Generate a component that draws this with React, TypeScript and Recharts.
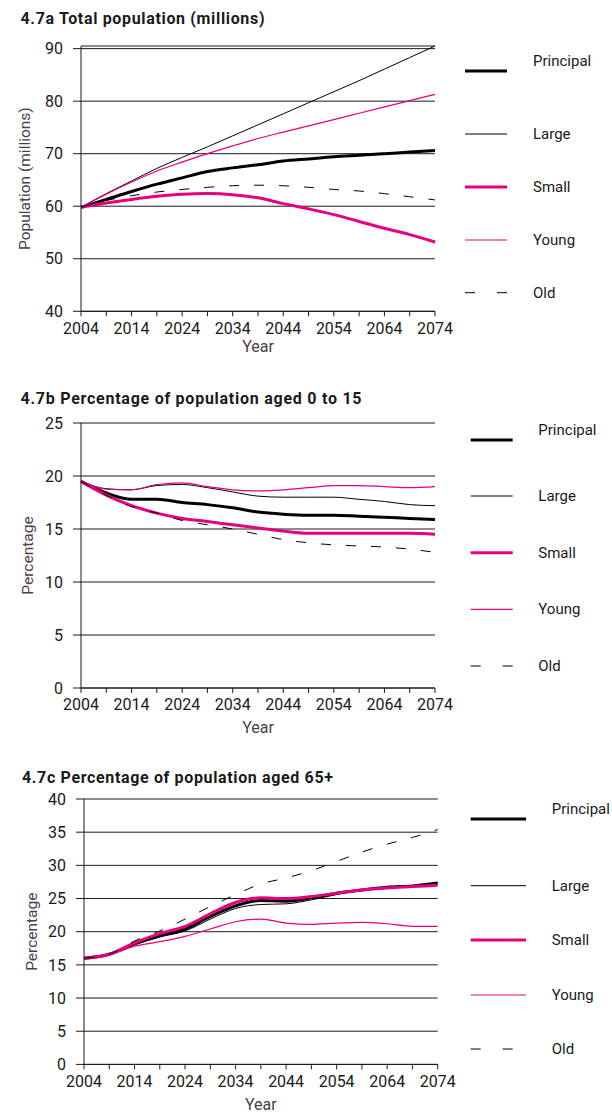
import React from 'react';
import { LineChart, Line, XAxis, YAxis, CartesianGrid } from 'recharts';

const years = [2004, 2009, 2014, 2019, 2024, 2029, 2034, 2039, 2044, 2049, 2054, 2059, 2064, 2069, 2074];
const seriesNames = ['Principal', 'Large', 'Small', 'Young', 'Old'];

// 4.7a Total population (millions)
const aPrincipal = [59.8, 61.3, 62.8, 64.2, 65.4, 66.6, 67.3, 67.9, 68.6, 69.0, 69.4, 69.7, 70.0, 70.3, 70.6];
const aLarge = [59.8, 62.4, 64.8, 67.2, 69.3, 71.3, 73.4, 75.5, 77.6, 79.7, 81.8, 83.9, 86.1, 88.3, 90.5];
const aSmall = [59.8, 60.6, 61.3, 61.9, 62.3, 62.4, 62.2, 61.6, 60.5, 59.5, 58.4, 57.1, 55.8, 54.6, 53.2];
const aYoung = [59.8, 62.3, 64.6, 66.7, 68.4, 70.0, 71.5, 72.9, 74.1, 75.3, 76.5, 77.7, 78.9, 80.1, 81.3];
const aOld = [59.8, 61.1, 62.0, 62.7, 63.2, 63.6, 63.9, 64.0, 63.9, 63.6, 63.2, 62.9, 62.4, 61.8, 61.2];
const aTicks = [40, 50, 60, 70, 80, 90];

// 4.7b Percentage of population aged 0 to 15
const bPrincipal = [19.5, 18.4, 17.8, 17.8, 17.5, 17.3, 17.0, 16.6, 16.4, 16.3, 16.3, 16.2, 16.1, 16.0, 15.9];
const bLarge = [19.5, 18.8, 18.7, 19.1, 19.2, 18.9, 18.5, 18.1, 18.0, 18.0, 18.0, 17.8, 17.6, 17.3, 17.2];
const bSmall = [19.5, 18.2, 17.2, 16.5, 16.0, 15.7, 15.4, 15.1, 14.8, 14.6, 14.6, 14.6, 14.6, 14.6, 14.5];
const bYoung = [19.5, 18.75, 18.7, 19.2, 19.35, 19.0, 18.7, 18.6, 18.7, 18.9, 19.1, 19.1, 19.0, 18.9, 19.0];
const bOld = [19.5, 18.2, 17.1, 16.5, 15.8, 15.4, 15.0, 14.5, 14.0, 13.7, 13.5, 13.4, 13.3, 13.1, 12.8];
const bTicks = [0, 5, 10, 15, 20, 25];

// 4.7c Percentage of population aged 65+
const cPrincipal = [16.0, 16.6, 18.2, 19.4, 20.4, 22.3, 23.9, 24.7, 24.6, 25.1, 25.8, 26.3, 26.7, 26.9, 27.35];
const cLarge = [16.0, 16.6, 18.0, 19.2, 20.1, 21.9, 23.5, 24.1, 24.2, 24.8, 25.6, 26.3, 26.7, 26.9, 27.4];
const cSmall = [16.0, 16.6, 18.3, 19.7, 20.8, 22.7, 24.4, 25.1, 25.0, 25.3, 25.8, 26.3, 26.6, 26.8, 27.0];
const cYoung = [16.0, 16.5, 17.8, 18.5, 19.3, 20.4, 21.5, 21.9, 21.3, 21.1, 21.3, 21.4, 21.2, 20.8, 20.8];
const cOld = [16.0, 16.6, 18.6, 20.1, 21.9, 23.8, 25.6, 27.2, 28.1, 29.2, 30.6, 32.0, 33.2, 34.2, 35.4];
const cTicks = [0, 5, 10, 15, 20, 25, 30, 35, 40];

const PINK = '#e6007e';
const INK = '#1a1a1a';
const LABEL = '#4a3d4c';
const FONT = 'Roboto, "Open Sans", sans-serif';

const styles: Record<string, { color: string; width: number; dash?: string; legendDash?: string }> = {
  Principal: { color: '#000', width: 3 },
  Large: { color: '#000', width: 1 },
  Small: { color: PINK, width: 3 },
  Young: { color: PINK, width: 1.2 },
  Old: { color: '#000', width: 1, dash: '10 15', legendDash: '10 22' },
};

function buildRows(p: number[], l: number[], s: number[], y: number[], o: number[]) {
  return years.map((yr, i) => ({ year: yr, Principal: p[i], Large: l[i], Small: s[i], Young: y[i], Old: o[i] }));
}

const panels = [
  {
    title: '4.7a Total population (millions)', titleX: 20.5, titleY: 23.8, titleW: 244,
    rows: buildRows(aPrincipal, aLarge, aSmall, aYoung, aOld),
    domain: [40, 90], ticks: aTicks, yLabel: 'Population (millions)', yLabelX: 25,
    plotTop: 46, plotBottom: 311.3, plotLeft: 81, plotRight: 435, yearBase: 352.5,
    legLine: [465, 507], legText: 533, legY: [71, 134, 187, 240, 292.7],
  },
  {
    title: '4.7b Percentage of population aged 0 to 15', titleX: 20.5, titleY: 404.1, titleW: 341,
    rows: buildRows(bPrincipal, bLarge, bSmall, bYoung, bOld),
    domain: [0, 25], ticks: bTicks, yLabel: 'Percentage', yLabelX: 27.5,
    plotTop: 422.7, plotBottom: 687.7, plotLeft: 81, plotRight: 435, yearBase: 732.3,
    legLine: [470.7, 512.7], legText: 538.3, legY: [440, 496, 552.7, 609.3, 666],
  },
  {
    title: '4.7c Percentage of population aged 65+', titleX: 22, titleY: 782.5, titleW: 311,
    rows: buildRows(cPrincipal, cLarge, cSmall, cYoung, cOld),
    domain: [0, 40], ticks: cTicks, yLabel: 'Percentage', yLabelX: 32,
    plotTop: 799.3, plotBottom: 1064.7, plotLeft: 84, plotRight: 437.7, yearBase: 1110.5,
    legLine: [470.7, 526], legText: 551.7, legY: [819, 885.7, 940, 995, 1049],
  },
];

const MT = 10;
const XH = 50;

function Panel({ p }: { p: typeof panels[number] }) {
  const height = p.plotBottom - p.plotTop + MT + XH;
  return (
    <div style={{ position: 'absolute', left: 0, top: p.plotTop - MT }}>
      <LineChart
        width={612}
        height={height}
        data={p.rows}
        margin={{ top: MT, right: 612 - p.plotRight, bottom: 0, left: 0 }}
      >
        <CartesianGrid vertical={false} stroke={INK} strokeWidth={1} />
        <XAxis
          dataKey="year"
          type="number"
          domain={[2004, 2074]}
          ticks={years}
          interval={0}
          height={XH}
          tickSize={5}
          tickMargin={6}
          tickFormatter={(v: number) => ((v - 2004) % 10 === 0 ? String(v) : '')}
          axisLine={{ stroke: INK }}
          tickLine={{ stroke: INK }}
          tick={{ fill: INK, fontSize: 16, fontFamily: FONT }}
          label={{ value: 'Year', position: 'insideBottom', offset: p.plotBottom + XH - p.yearBase, fill: LABEL, fontSize: 16, fontFamily: FONT }}
        />
        <YAxis
          type="number"
          domain={p.domain}
          ticks={p.ticks}
          interval={0}
          width={p.plotLeft}
          tickSize={8}
          tickMargin={10}
          axisLine={{ stroke: INK }}
          tickLine={{ stroke: INK }}
          tick={{ fill: INK, fontSize: 16, fontFamily: FONT }}
          label={{ value: p.yLabel, angle: -90, position: 'insideLeft', offset: p.yLabelX, fill: LABEL, fontSize: 15.5, fontFamily: FONT, style: { textAnchor: 'middle' } }}
        />
        {seriesNames.map((name) => (
          <Line
            key={name}
            dataKey={name}
            type="monotone"
            stroke={styles[name].color}
            strokeWidth={styles[name].width}
            strokeDasharray={styles[name].dash}
            dot={false}
            activeDot={false}
            isAnimationActive={false}
          />
        ))}
      </LineChart>
    </div>
  );
}

export default function App() {
  return (
    <div style={{ position: 'absolute', left: 0, top: 0, width: 612, height: 1113, background: '#fff', fontFamily: FONT }}>
      {panels.map((p, i) => (
        <Panel key={i} p={p} />
      ))}
      <svg width={612} height={1113} style={{ position: 'absolute', left: 0, top: 0, pointerEvents: 'none' }}>
        {panels.map((p, i) => (
          <g key={i}>
            <text
              x={p.titleX}
              y={p.titleY}
              fontFamily={FONT}
              fontWeight={700}
              fontSize={16}
              fill={INK}
              textLength={p.titleW}
              lengthAdjust="spacing"
            >
              {p.title}
            </text>
            {seriesNames.map((name, j) => {
              const st = styles[name];
              const ly = p.legY[j];
              const ty = j === 0 ? ly - 5.5 : ly + 5;
              return (
                <g key={name}>
                  <line
                    x1={p.legLine[0]}
                    x2={p.legLine[1]}
                    y1={ly}
                    y2={ly}
                    stroke={st.color}
                    strokeWidth={st.width}
                    strokeDasharray={st.legendDash}
                  />
                  <text x={p.legText} y={ty} fontFamily={FONT} fontSize={15} fill={INK}>
                    {name}
                  </text>
                </g>
              );
            })}
          </g>
        ))}
      </svg>
    </div>
  );
}
